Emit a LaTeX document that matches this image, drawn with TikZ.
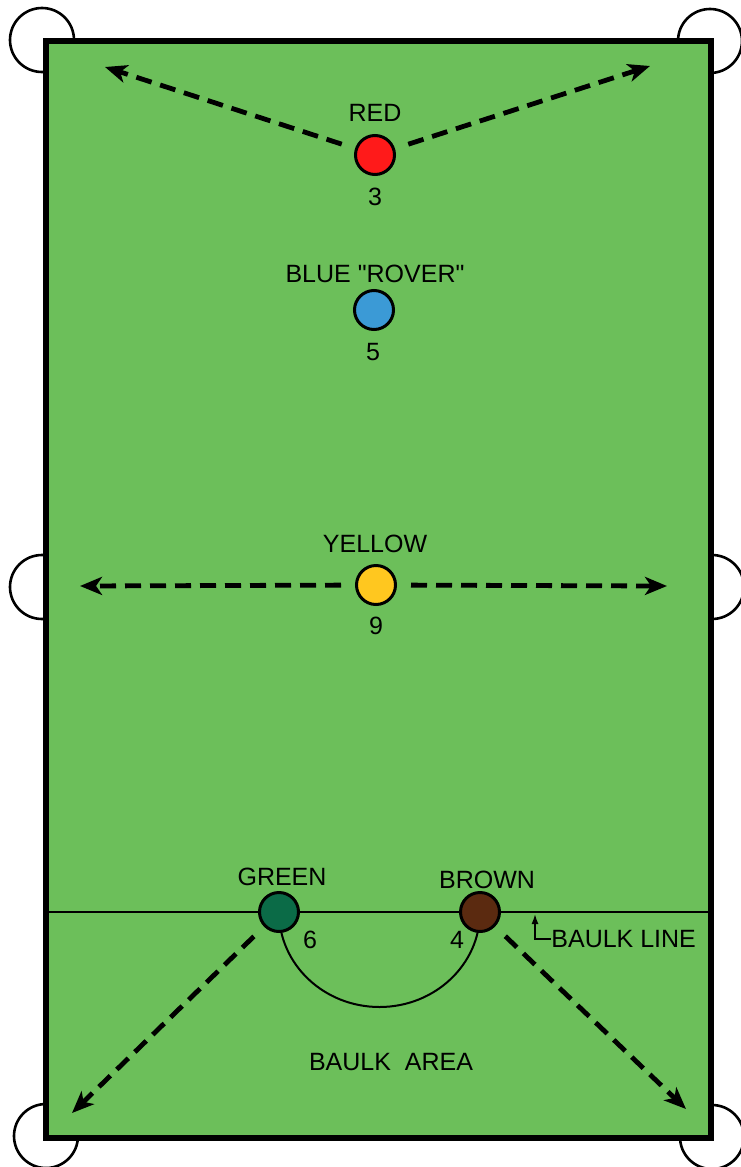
\documentclass[tikz,border=0pt]{standalone}
\usepackage{fontspec}
\setmainfont{Liberation Sans}[Ligatures=TeXOff]
\usetikzlibrary{arrows.meta}
\definecolor{cloth}{HTML}{6CBF5A}
\definecolor{redball}{HTML}{FF1A1A}
\definecolor{blueball}{HTML}{3B9AD6}
\definecolor{yellowball}{HTML}{FFC71F}
\definecolor{greenball}{HTML}{0B6B47}
\definecolor{brownball}{HTML}{5B2A10}

\begin{document}
\begin{tikzpicture}[x=0.5pt, y=-0.5pt,
  every node/.style={font=\fontsize{12.5}{15}\selectfont, inner sep=0pt},
  pocket/.style={draw, fill=white, line width=1.3pt},
  table/.style={draw, fill=cloth, line width=3pt},
  ball/.style={circle, draw, line width=1.5pt, minimum size=19.5pt},
  shot/.style={line width=2.4pt, dash pattern=on 8pt off 4.5pt, shorten <=7pt,
    -{Stealth[length=11pt, width=9pt, inset=3pt]}},
  marker/.style={line width=0.8pt, -{Latex[length=5pt, width=3.5pt]}}
]
\useasboundingbox (0,0) rectangle (740,1167);

\foreach \p in {(42,40),(710,41),(42,587),(712,587),(46,1136),(712,1137)} {
  \draw[pocket] \p circle[radius=16pt];
}
\draw[table] (46,40.5) rectangle (711,1137.5);

\coordinate (lineL) at (46,912);
\coordinate (lineR) at (711,912);
\coordinate (bmark) at (535,914);
\draw[line width=1.4pt] (lineL) -- (lineR);
\draw[line width=1pt] (279,912) arc[start angle=180, end angle=360, x radius=50.25pt, y radius=47.5pt];

\node[ball, fill=redball] (red) at (375,155) {};
\node[ball, fill=blueball] (blue) at (374,310) {};
\node[ball, fill=yellowball] (yellow) at (376,585) {};
\node[ball, fill=greenball] (green) at (279,912) {};
\node[ball, fill=brownball] (brown) at (480,912) {};

\node (redlbl) at (375,113) {RED};
\node (rednum) at (375,197) {3};
\node (bluelbl) at (375,273.5) {BLUE "ROVER"};
\node (bluenum) at (373,352) {5};
\node (yellowlbl) at (375,544) {YELLOW};
\node (yellownum) at (376,626) {9};
\node (greenlbl) at (282,877) {GREEN};
\node (greennum) at (310,940) {6};
\node (brownlbl) at (487,880) {BROWN};
\node (brownnum) at (457,940) {4};
\node[anchor=west] (linelbl) at (551,939) {BAULK LINE};
\node (arealbl) at (391,1062) {BAULK\ \ AREA};

\draw[marker] (linelbl.west) -| (bmark);

\coordinate (tl) at (105,67);
\coordinate (tr) at (650,66);
\coordinate (ml) at (80,586);
\coordinate (mr) at (667,586);
\coordinate (bl) at (72,1113);
\coordinate (br) at (686,1109);
\draw[shot] (red) -- (tl);
\draw[shot] (red) -- (tr);
\draw[shot] (yellow) -- (ml);
\draw[shot] (yellow) -- (mr);
\draw[shot] (green) -- (bl);
\draw[shot] (brown) -- (br);
\end{tikzpicture}
\end{document}
